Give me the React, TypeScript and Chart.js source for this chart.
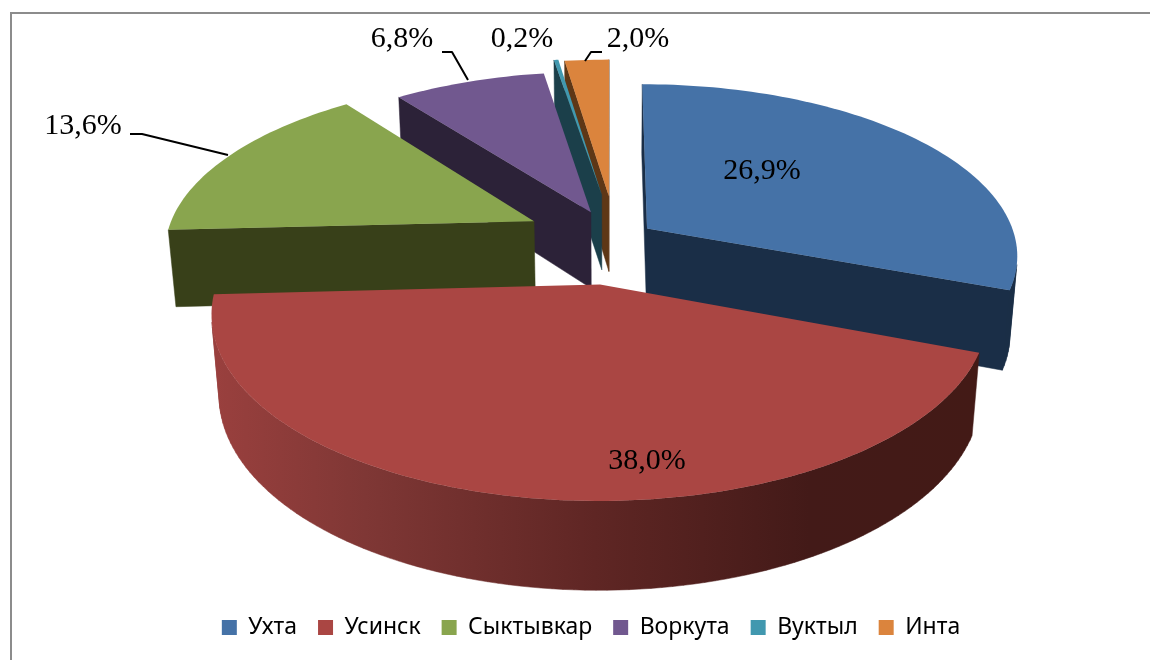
import React, { useEffect, useRef } from "react";
import { Chart, registerables } from "chart.js";

Chart.register(...registerables);

const categories = ["Ухта", "Усинск", "Сыктывкар", "Воркута", "Вуктыл", "Инта"];
const shares = [26.9, 38.0, 13.6, 6.8, 0.2, 2.0];
const valueLabels = ["26,9%", "38,0%", "13,6%", "6,8%", "0,2%", "2,0%"];
const topColors = ["#4572a7", "#aa4643", "#89a54e", "#71588f", "#4198af", "#db843d"];
const wallColors = ["#1a2e47", "#6e2a28", "#384019", "#2c2238", "#1b3f4a", "#5e3716"];
const explode = [0.12, 0.23, 0.24, 0.17, 0.3, 0.27];
const sliceNudge = [[1, -3], [3.5, 1.5], [3, -5], [5, -5], [8, 0], [6, -3]];
const paintOrder = [5, 4, 3, 2, 0, 1];
const labelCentres = [[762, 171], [647, 461], [83, 126], [402, 39], [522, 39], [638, 39]];
const leaderLines = [
  [[130, 134], [142, 134], [228, 155]],
  [[442, 52], [452, 52], [468, 80]],
  [[602, 52], [591, 52], [585, 61]],
];
const redWallStops: [number, string][] = [
  [0, "#9a403e"],
  [0.2, "#7f3735"],
  [0.5, "#5f2624"],
  [0.78, "#431a18"],
  [1, "#431a16"],
];

// camera that maps the pie's plane (radius = 1) onto the screen
const cam = { cx: 610, cy: 243, F: 370, A: 170, k: 0.15, q: 0.018, B: 79 };
const project = (X: number, Y: number, h: number) => {
  const den = 1 - cam.k * Y + cam.q * h;
  return [cam.cx + (cam.F * X) / den, cam.cy + (cam.A * Y + cam.B * h) / den];
};

const pie3d = {
  id: "pie3d",
  beforeDraw(chart: any) {
    const { ctx } = chart;
    ctx.save();
    ctx.fillStyle = "#ffffff";
    ctx.fillRect(0, 0, chart.width, chart.height);
    ctx.strokeStyle = "#8c8c8c";
    ctx.lineWidth = 2;
    ctx.strokeRect(11, 13, chart.width + 20, chart.height + 20);
    ctx.restore();
  },
  beforeDatasetDraw() {
    return false;
  },
  afterDatasetsDraw(chart: any) {
    const { ctx } = chart;
    const arcs = chart.getDatasetMeta(0).data;
    ctx.save();
    ctx.lineJoin = "round";
    for (const i of paintOrder) {
      const a0 = arcs[i].startAngle;
      const a1 = arcs[i].endAngle;
      const mid = (a0 + a1) / 2;
      const ox = Math.cos(mid) * explode[i] + sliceNudge[i][0] / cam.F;
      const oy = Math.sin(mid) * explode[i] + sliceNudge[i][1] / cam.A;
      const ring: number[][] = [[ox, oy]];
      const steps = Math.max(4, Math.ceil((a1 - a0) * 40));
      for (let s = 0; s <= steps; s++) {
        const a = a0 + ((a1 - a0) * s) / steps;
        ring.push([ox + Math.cos(a), oy + Math.sin(a)]);
      }
      let wallFill: any = wallColors[i];
      if (i === 1) {
        const g = ctx.createLinearGradient(212, 0, 978, 0);
        redWallStops.forEach(([p, c]) => g.addColorStop(p, c));
        wallFill = g;
      }
      ctx.beginPath();
      for (let e = 0; e < ring.length; e++) {
        const P = ring[e];
        const Q = ring[(e + 1) % ring.length];
        const q = [
          project(P[0], P[1], 0),
          project(Q[0], Q[1], 0),
          project(Q[0], Q[1], 1),
          project(P[0], P[1], 1),
        ];
        let area = 0;
        for (let n = 0; n < 4; n++) {
          const u = q[n];
          const v = q[(n + 1) % 4];
          area += u[0] * v[1] - v[0] * u[1];
        }
        if (area < 0) {
          ctx.moveTo(q[0][0], q[0][1]);
          for (let n = 1; n < 4; n++) ctx.lineTo(q[n][0], q[n][1]);
          ctx.closePath();
        }
      }
      ctx.fillStyle = wallFill;
      ctx.strokeStyle = wallFill;
      ctx.lineWidth = 0.5;
      ctx.fill();
      ctx.stroke();

      ctx.beginPath();
      ring.forEach((p, n) => {
        const s = project(p[0], p[1], 0);
        if (n === 0) ctx.moveTo(s[0], s[1]);
        else ctx.lineTo(s[0], s[1]);
      });
      ctx.closePath();
      ctx.fillStyle = topColors[i];
      ctx.fill();
    }

    ctx.strokeStyle = "#000000";
    ctx.lineWidth = 2;
    for (const line of leaderLines) {
      ctx.beginPath();
      line.forEach((p, n) => (n === 0 ? ctx.moveTo(p[0], p[1]) : ctx.lineTo(p[0], p[1])));
      ctx.stroke();
    }
    ctx.fillStyle = "#000000";
    ctx.font = '30px "Liberation Serif"';
    ctx.textAlign = "center";
    ctx.textBaseline = "middle";
    valueLabels.forEach((t, n) => ctx.fillText(t, labelCentres[n][0], labelCentres[n][1]));
    ctx.restore();
  },
};

export default function App() {
  const ref = useRef<HTMLCanvasElement>(null);
  useEffect(() => {
    document.body.style.margin = "0";
    const chart = new Chart(ref.current as HTMLCanvasElement, {
      type: "pie",
      data: {
        labels: categories,
        datasets: [{ data: shares, backgroundColor: topColors, borderWidth: 0 }],
      },
      options: {
        animation: false,
        responsive: false,
        layout: { padding: { left: 32, bottom: 11 } },
        plugins: {
          tooltip: { enabled: false },
          legend: {
            position: "bottom",
            labels: {
              boxWidth: 15,
              boxHeight: 15,
              padding: 21,
              color: "#000000",
              font: { family: '"Noto Sans"', size: 23 },
            },
          },
        },
      } as any,
      plugins: [pie3d],
    });
    return () => chart.destroy();
  }, []);
  return (
    <div style={{ position: "absolute", left: 0, top: 0, width: 1150, height: 660, overflow: "hidden" }}>
      <canvas ref={ref} width={1150} height={660} style={{ display: "block" }} />
    </div>
  );
}
